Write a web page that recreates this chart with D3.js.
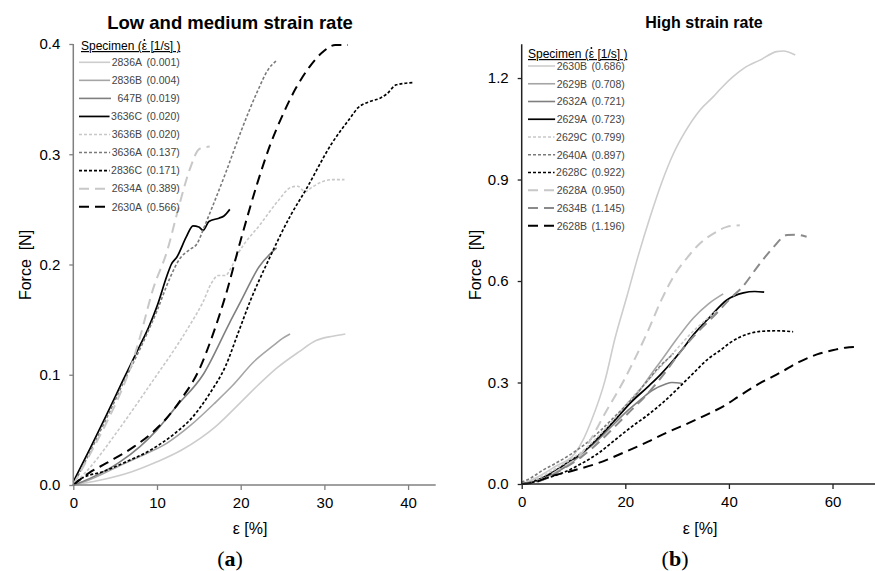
<!DOCTYPE html>
<html>
<head>
<meta charset="UTF-8">
<script src="https://d3js.org/d3.v7.min.js"></script>
<style>
  body { margin: 0; background: #fff; }
  text { font-family: "Liberation Sans", Arial, sans-serif; }
  .title { font-weight: bold; }
  .tick text { font-size: 15px; fill: #000; }
  .axlab { font-size: 16px; white-space: pre; }
  .leg { font-size: 10.5px; fill: #444; }
  .panel { font-family: "Liberation Serif", "DejaVu Serif", serif; font-size: 22px; }
</style>
</head>
<body>
<div id="viz"></div>
<script>
// ---- low and medium strain rate (panel a) ----
const lowNames = ["2836A", "2836B", "647B", "3636C", "3636B", "3636A", "2836C", "2634A", "2630A"];
const lowRates = ["0.001", "0.004", "0.019", "0.020", "0.020", "0.137", "0.171", "0.389", "0.566"];
const lowStyles = ["light", "mid", "dark", "black", "sdLight", "sdDark", "sdBlack", "ldLight", "ldBlack"];
const lowXTicks = [0, 10, 20, 30, 40];
const lowYTicks = [0, 0.1, 0.2, 0.3, 0.4];

const s2836A = [[0,0],[3,0.004],[7,0.012],[10,0.021],[13,0.032],[17,0.053],[20,0.075],[22,0.09],[24.3,0.106],[27,0.121],[29,0.131],[31,0.135],[32.5,0.137]];
const s2836B = [[0,0],[2,0.005],[5.4,0.017],[8,0.026],[11.2,0.038],[14,0.054],[17,0.075],[19,0.09],[21.6,0.112],[24,0.127],[25,0.133],[25.9,0.137]];
const s647B = [[0,0],[2,0.006],[5.4,0.02],[8,0.035],[10,0.05],[12.4,0.072],[15.5,0.1],[18.6,0.146],[20.1,0.168],[22.2,0.198],[24.3,0.215]];
const s3636C = [[0,0.003],[2,0.033],[4,0.064],[6,0.096],[8,0.127],[9,0.143],[10,0.162],[11.2,0.19],[11.7,0.2],[12.4,0.207],[13.5,0.225],[14.3,0.235],[15,0.234],[15.5,0.231],[16.2,0.239],[17.4,0.242],[18,0.244],[18.7,0.25]];
const s3636B = [[0,0],[2,0.016],[5.4,0.05],[8,0.078],[10,0.1],[12,0.122],[14,0.146],[15.5,0.166],[16.5,0.183],[17.3,0.19],[18.2,0.19],[18.7,0.195],[19.7,0.21],[22.4,0.237],[24.5,0.258],[26,0.27],[26.8,0.271],[27.7,0.266],[28.5,0.27],[29.7,0.275],[31,0.277],[32.4,0.277]];
const s3636A = [[0,0],[2,0.03],[4,0.061],[6,0.093],[8,0.124],[10,0.158],[11.5,0.187],[12.7,0.205],[14,0.214],[14.7,0.218],[15.8,0.237],[16.6,0.252],[18.2,0.283],[20.1,0.322],[22,0.357],[23.3,0.377],[24.3,0.385]];
const s2836C = [[0,0],[1,0.006],[3.5,0.012],[6,0.02],[9.3,0.032],[12,0.046],[14.3,0.062],[16.3,0.083],[18.2,0.108],[19.7,0.138],[21.2,0.168],[23.2,0.202],[26,0.245],[27.8,0.268],[30.9,0.31],[33,0.332],[34,0.342],[35.5,0.348],[36.7,0.351],[37.5,0.355],[38.6,0.363],[40.6,0.365]];
const s2634A = [[0,0],[2,0.028],[4,0.057],[6,0.09],[7,0.11],[8,0.135],[9.5,0.177],[11.2,0.212],[12.7,0.255],[13.9,0.286],[15.1,0.305],[16.3,0.307]];
const s2630A = [[0,0],[1.9,0.011],[4,0.02],[7.3,0.035],[9.5,0.048],[11.2,0.061],[13,0.079],[15,0.104],[16.7,0.137],[18.2,0.172],[20,0.222],[22,0.274],[23.5,0.308],[25.1,0.337],[26.6,0.36],[28.2,0.379],[29.7,0.392],[31.3,0.399],[32.8,0.399]];
const lowSeries = [s2836A, s2836B, s647B, s3636C, s3636B, s3636A, s2836C, s2634A, s2630A];

// ---- high strain rate (panel b) ----
const highNames = ["2630B", "2629B", "2632A", "2629A", "2629C", "2640A", "2628C", "2628A", "2634B", "2628B"];
const highRates = ["0.686", "0.708", "0.721", "0.723", "0.799", "0.897", "0.922", "0.950", "1.145", "1.196"];
const highStyles = ["light", "mid", "dark", "black", "sdLight", "sdDark", "sdBlack", "ldLight", "ldMid", "ldBlack"];
const highXTicks = [0, 20, 40, 60];
const highYTicks = [0, 0.3, 0.6, 0.9, 1.2];

const s2630B = [[0,0],[3,0.02],[6.4,0.051],[10.3,0.091],[12,0.135],[13.5,0.189],[16.1,0.307],[18,0.43],[20.3,0.554],[22.5,0.675],[24.8,0.79],[27,0.89],[29.3,0.977],[31.5,1.04],[34.4,1.105],[37,1.145],[38.5,1.17],[40.8,1.204],[43,1.23],[46,1.253],[49.2,1.278],[50.5,1.28],[52.8,1.268]];
const s2629B = [[0,0],[3,0.01],[6,0.03],[10.3,0.071],[14,0.125],[18,0.189],[22,0.26],[25.1,0.327],[26.7,0.36],[30,0.43],[33.1,0.49],[36,0.532],[38.9,0.562]];
const s2632A = [[0,0],[4,0.018],[8.4,0.05],[11.6,0.09],[14,0.12],[17,0.165],[20.6,0.219],[23,0.25],[25,0.275],[27.7,0.295],[29,0.3],[31,0.297]];
const s2629A = [[0,0],[3,0.012],[6,0.035],[9,0.065],[11.6,0.091],[15,0.14],[18,0.189],[21,0.24],[24.4,0.288],[26.7,0.322],[30.9,0.396],[33.1,0.44],[36.4,0.495],[39.6,0.544],[42.8,0.565],[45,0.569],[46.8,0.567]];
const s2629C = [[0,0],[3,0.015],[6,0.04],[9,0.068],[12,0.1],[15,0.145],[18,0.195],[21,0.25],[24,0.3],[27,0.35],[30,0.4],[33,0.45],[35,0.478],[37.5,0.51]];
const s2640A = [[0,0.005],[2,0.02],[4,0.04],[6.4,0.06],[9.7,0.09],[12,0.115],[15,0.155],[18,0.2],[21.2,0.25],[24,0.3],[26.5,0.345],[28.9,0.38],[29.3,0.386]];
const s2628C = [[0,0],[3,0.008],[5,0.018],[8.4,0.036],[11.5,0.06],[14.8,0.091],[18,0.13],[21.2,0.169],[24,0.2],[27.2,0.24],[30,0.28],[33.1,0.327],[36,0.37],[38.5,0.397],[40,0.415],[42.1,0.434],[44,0.445],[46,0.451],[49.2,0.453],[52.4,0.45]];
const s2628A = [[0,0],[4,0.015],[8,0.05],[11.6,0.091],[14,0.15],[16.1,0.209],[19.5,0.3],[22,0.375],[24.3,0.45],[27,0.545],[29.3,0.613],[32,0.67],[34.4,0.711],[37,0.74],[39.6,0.76],[42.1,0.765]];
const s2634B = [[0,0],[4,0.012],[8,0.045],[11.6,0.081],[15,0.125],[18,0.17],[21.2,0.219],[24,0.262],[27.7,0.33],[30.6,0.39],[34,0.45],[37,0.495],[40.8,0.556],[42.1,0.574],[46,0.652],[48.6,0.7],[51.2,0.736],[53,0.737],[55,0.731]];
const s2628B = [[0,0],[2.5,0.005],[5.1,0.02],[10,0.04],[14.8,0.062],[20,0.095],[24.4,0.125],[28,0.152],[32.2,0.18],[36.4,0.21],[39.2,0.232],[42,0.26],[46,0.298],[50,0.33],[53.7,0.362],[57,0.383],[60.2,0.396],[62.5,0.403],[64.7,0.405]];
const highSeries = [s2630B, s2629B, s2632A, s2629A, s2629C, s2640A, s2628C, s2628A, s2634B, s2628B];

const styles = {
  light:   { c: "#cdcdcd", w: 1.6, d: null },
  mid:     { c: "#a5a5a5", w: 1.6, d: null },
  dark:    { c: "#7f7f7f", w: 1.6, d: null },
  black:   { c: "#000",    w: 1.7, d: null },
  sdLight: { c: "#c8c8c8", w: 1.6, d: "3,2" },
  sdDark:  { c: "#7a7a7a", w: 1.6, d: "3,2" },
  sdBlack: { c: "#000",    w: 1.7, d: "3,2" },
  ldLight: { c: "#c8c8c8", w: 2,   d: "10,6" },
  ldMid:   { c: "#8a8a8a", w: 2,   d: "10,6" },
  ldBlack: { c: "#000",    w: 2,   d: "10,6" }
};

const svg = d3.select("#viz").append("svg").attr("width", 876).attr("height", 571);

function panel(cfg) {
  const x = d3.scaleLinear().domain(cfg.xDom).range(cfg.xRange);
  const y = d3.scaleLinear().domain(cfg.yDom).range(cfg.yRange);
  const g = svg.append("g");

  const line = d3.line().x(d => x(d[0])).y(d => y(d[1])).curve(d3.curveMonotoneX);
  cfg.series.forEach((s, i) => {
    const st = styles[cfg.styles[i]];
    g.append("path").attr("d", line(s)).attr("fill", "none")
      .attr("stroke", st.c).attr("stroke-width", st.w)
      .attr("stroke-dasharray", st.d);
  });

  const xa = g.append("g").attr("transform", `translate(0,${cfg.yRange[0]})`)
    .call(d3.axisBottom(x).tickValues(cfg.xTicks).tickSize(5).tickPadding(7).tickFormat(d3.format("d")));
  const ya = g.append("g").attr("transform", `translate(${cfg.xRange[0]},0)`)
    .call(d3.axisLeft(y).tickValues(cfg.yTicks).tickSize(4).tickPadding(9).tickFormat(d3.format(".1f")));
  [xa, ya].forEach(a => {
    a.select(".domain").attr("stroke", cfg.axisColor).attr("stroke-width", 1.5).attr("d",
      a === xa ? `M${cfg.xRange[0]},0H${cfg.xRange[1]}` : `M0,${cfg.yRange[0]}V${cfg.yRange[1]}`);
    a.selectAll(".tick line").attr("stroke", cfg.axisColor).attr("stroke-width", 1.3);
    a.selectAll(".tick text").attr("font-family", "Liberation Sans, Arial, sans-serif");
  });

  svg.append("text").attr("class", "title").attr("x", cfg.titleX).attr("y", cfg.titleY)
    .attr("font-size", cfg.titleSize).attr("text-anchor", "middle").text(cfg.title);
  svg.append("text").attr("class", "axlab").attr("text-anchor", "middle").attr("xml:space", "preserve")
    .attr("transform", `translate(${cfg.yLabX},265) rotate(-90)`).text("Force  [N]");
  svg.append("text").attr("class", "axlab").attr("x", cfg.xLabX).attr("y", 534)
    .attr("text-anchor", "middle").text("ε [%]");
  const p = svg.append("text").attr("class", "panel").attr("x", cfg.tagX).attr("y", 566).attr("text-anchor", "middle");
  p.append("tspan").text("(");
  p.append("tspan").attr("font-weight", "bold").text(cfg.tag);
  p.append("tspan").text(")");

  // legend
  const L = cfg.leg;
  const h = svg.append("text").attr("x", L.hx).attr("y", L.hy + 4).attr("font-size", 12).attr("fill", "#000")
    .attr("text-decoration", "underline").attr("xml:space", "preserve")
    .text("Specimen (ε [1/s] )");
  // dot over epsilon
  const node = h.node();
  const ex = L.hx + node.getSubStringLength(0, 10) + node.getSubStringLength(10, 1) / 2;
  svg.append("circle").attr("cx", ex).attr("cy", L.hy - 6).attr("r", 0.9).attr("fill", "#000");

  cfg.names.forEach((n, i) => {
    const st = styles[cfg.styles[i]];
    const yy = L.y0 + i * L.dy;
    const t = svg.append("text").attr("class", "leg").attr("x", L.nx).attr("y", yy + 3.8)
      .attr("text-anchor", "end").text(n);
    const start = L.nx - t.node().getComputedTextLength();
    svg.append("line").attr("x1", L.lx1).attr("x2", Math.min(L.lx2, start - 1.5)).attr("y1", yy).attr("y2", yy)
      .attr("stroke", st.c).attr("stroke-width", st.w).attr("stroke-dasharray", st.d);
    svg.append("text").attr("class", "leg").attr("x", L.nx + 4.5).attr("y", yy + 3.8)
      .text("(" + cfg.rates[i] + ")");
  });
}

panel({
  xDom: [0, 43.3], xRange: [73.3, 435.7], yDom: [0, 0.4], yRange: [485, 44],
  xTicks: lowXTicks, yTicks: lowYTicks, series: lowSeries, styles: lowStyles,
  names: lowNames, rates: lowRates, axisColor: "#808080",
  title: "Low and medium strain rate", titleSize: 18.5, titleX: 230, titleY: 29,
  yLabX: 31, xLabX: 250, tag: "a", tagX: 230,
  leg: { hx: 81, hy: 46, y0: 62.3, dy: 18.05, lx1: 79, lx2: 111, nx: 142 }
});

panel({
  xDom: [0, 68.2], xRange: [521.7, 875], yDom: [0, 1.3], yRange: [484, 44.2],
  xTicks: highXTicks, yTicks: highYTicks, series: highSeries, styles: highStyles,
  names: highNames, rates: highRates, axisColor: "#222",
  title: "High strain rate", titleSize: 16, titleX: 704, titleY: 28,
  yLabX: 481, xLabX: 700, tag: "b", tagX: 675,
  leg: { hx: 528, hy: 54, y0: 66, dy: 17.75, lx1: 528, lx2: 557.5, nx: 587 }
});
</script>
</body>
</html>
